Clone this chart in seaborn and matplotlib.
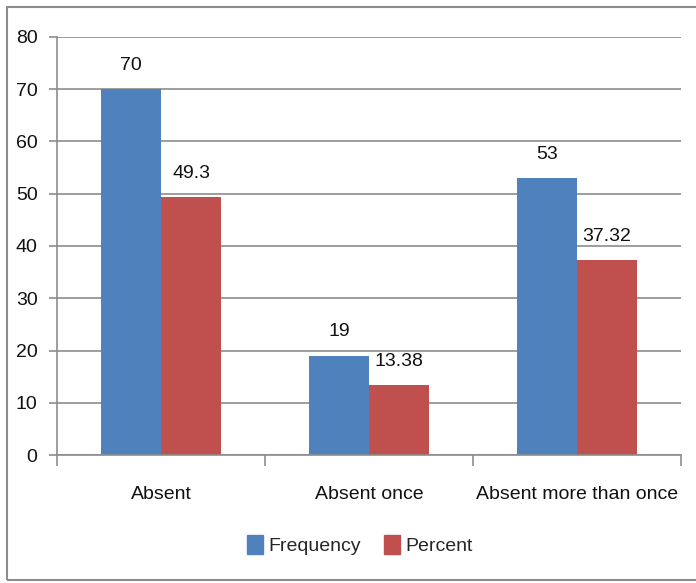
import matplotlib
matplotlib.use("Agg")
import matplotlib.pyplot as plt
import seaborn as sns
import pandas as pd
from matplotlib import font_manager
from matplotlib.patches import Rectangle

categories = ["Absent", "Absent once", "Absent more than once"]
frequency = [70, 19, 53]
percent = [49.3, 13.38, 37.32]
value_labels_freq = ["70", "19", "53"]
value_labels_pct = ["49.3", "13.38", "37.32"]
series_names = ["Frequency", "Percent"]
y_ticks = [0, 10, 20, 30, 40, 50, 60, 70, 80]

df = pd.DataFrame({
    "category": categories * 2,
    "series": [series_names[0]] * 3 + [series_names[1]] * 3,
    "value": frequency + percent,
})

sns.set_theme(style="white")
installed = {f.name for f in font_manager.fontManager.ttflist}
families = [f for f in ["Liberation Sans Narrow", "Liberation Sans", "DejaVu Sans"] if f in installed]
plt.rcParams["font.family"] = families

fig = plt.figure(figsize=(6.96, 5.83), dpi=100)
ax = fig.add_axes([57 / 696, 1 - 455 / 583, (681 - 57) / 696, (455 - 37) / 583])

palette = {"Frequency": "#4F81BD", "Percent": "#C0504D"}
sns.barplot(data=df, x="category", y="value", hue="series", order=categories,
            hue_order=series_names, palette=palette, width=0.577, saturation=1,
            ax=ax, legend=False, edgecolor="none")

ax.set_ylim(0, 80)
ax.set_xlim(-0.5, 2.5)
ax.set_yticks(y_ticks)
ax.yaxis.grid(True, color="#8c8c8c", linewidth=1.2)
ax.set_axisbelow(True)
ax.set_xlabel("")
ax.set_ylabel("")

for s in ["top", "right"]:
    ax.spines[s].set_visible(False)
for s in ["left", "bottom"]:
    ax.spines[s].set_color("#8c8c8c")
    ax.spines[s].set_linewidth(1.2)

# tick marks on category boundaries, labels at category centres
ax.set_xticks([-0.5, 0.5, 1.5, 2.5], minor=False)
ax.set_xticklabels([])
ax.set_xticks([0, 1, 2], minor=True)
ax.set_xticklabels(categories, minor=True, fontsize=14, color="#111111")
ax.tick_params(axis="x", which="major", length=8, width=1.2, color="#8c8c8c", direction="out", bottom=True)
ax.tick_params(axis="x", which="minor", length=0, pad=22)
ax.tick_params(axis="y", length=6, width=1.2, color="#8c8c8c", direction="out", left=True,
               labelsize=14, labelcolor="#111111", pad=8)

labels_all = [value_labels_freq, value_labels_pct]
for container, labs in zip(ax.containers, labels_all):
    ax.bar_label(container, labels=labs, padding=11, fontsize=14, color="#111111")

handles = [Rectangle((0, 0), 1, 1, color=palette[n]) for n in series_names]
fig.legend(handles, series_names, loc="center", bbox_to_anchor=(360 / 696, 1 - 545 / 583),
           ncol=2, frameon=False, fontsize=14, handlelength=0.8, handleheight=1.1,
           handletextpad=0.3, columnspacing=1.2)

# outer chart frame
fig.patches.append(Rectangle((7 / 696, 1 - 580 / 583), 1.0, (580 - 7) / 583,
                             transform=fig.transFigure, fill=False,
                             edgecolor="#8c8c8c", linewidth=1.5))

fig.savefig("out.png", dpi=100)
